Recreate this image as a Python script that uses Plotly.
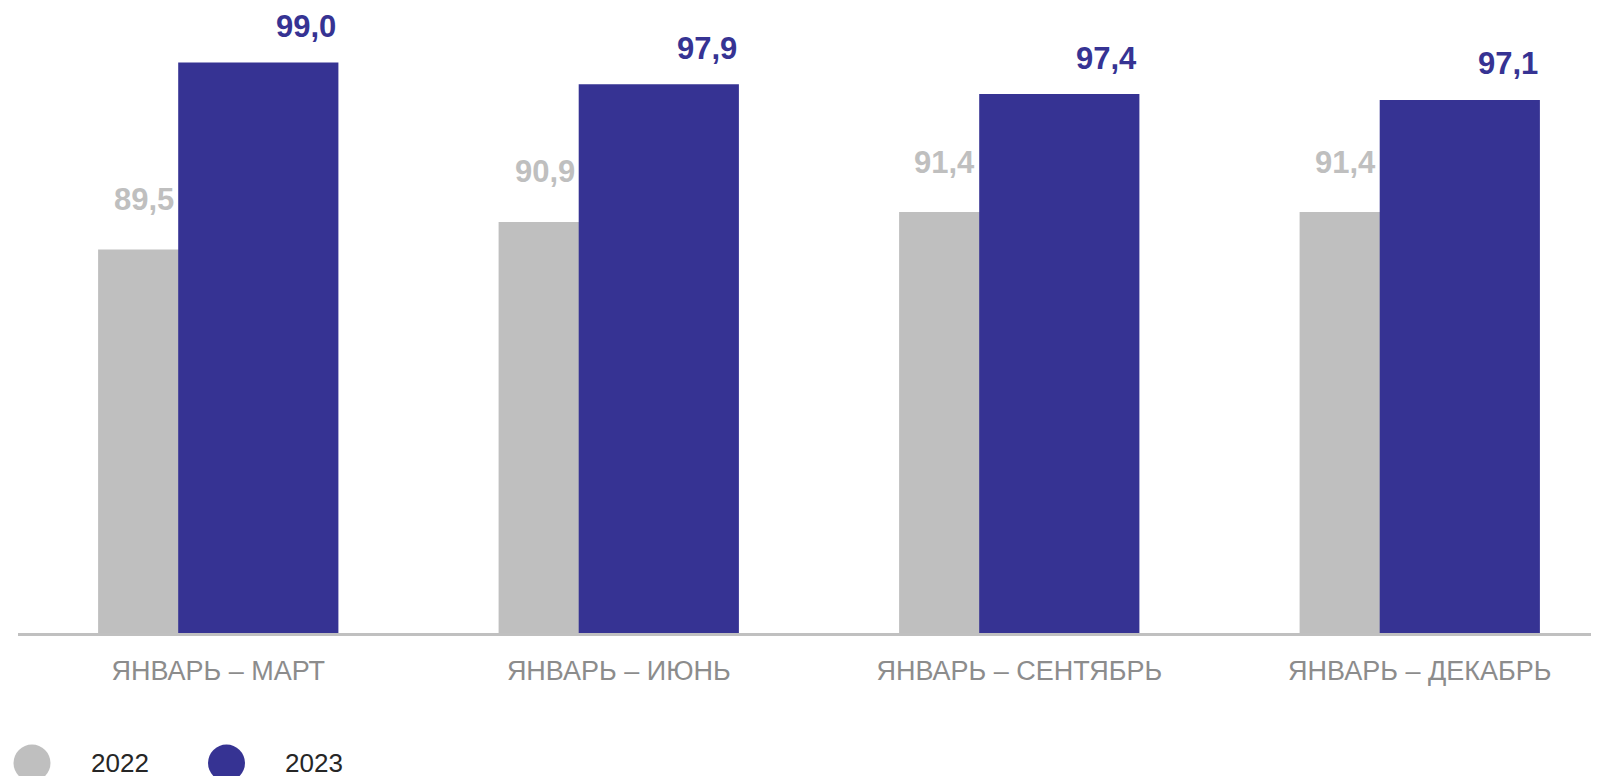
import plotly.graph_objects as go

categories = ["ЯНВАРЬ – МАРТ", "ЯНВАРЬ – ИЮНЬ", "ЯНВАРЬ – СЕНТЯБРЬ", "ЯНВАРЬ – ДЕКАБРЬ"]
values_2022 = [89.5, 90.9, 91.4, 91.4]
values_2023 = [99.0, 97.9, 97.4, 97.1]
series_names = ["2022", "2023"]
label_2022 = ["89,5", "90,9", "91,4", "91,4"]
label_2023 = ["99,0", "97,9", "97,4", "97,1"]

GRAY = "#bfbfbf"
BLUE = "#363393"
FONT = "Arial, Liberation Sans, sans-serif"

PAGE_OFF = 8  # default body margin of the page
W, H = 1599 - PAGE_OFF, 776 - PAGE_OFF
ML, MR, MT, MB = 18 - PAGE_OFF, 0, 0, 143
plot_w = W - ML - MR
plot_h = H - MT - MB
cat_px = 400.5
px_per_unit = 19.67
BAR_W = 0.4
OFF_22 = -0.3
OFF_23 = -0.1

fig = go.Figure()
fig.add_trace(go.Bar(x=categories, y=values_2022, name=series_names[0],
                     marker=dict(color=GRAY, line=dict(width=0)),
                     width=BAR_W, offset=OFF_22, hoverinfo="skip"))
fig.add_trace(go.Bar(x=categories, y=values_2023, name=series_names[1],
                     marker=dict(color=BLUE, line=dict(width=0)),
                     width=BAR_W, offset=OFF_23, hoverinfo="skip"))

annotations = []
for i, (v, t) in enumerate(zip(values_2022, label_2022)):
    annotations.append(dict(x=i + OFF_22 + BAR_W / 2, y=v, xref="x", yref="y", text=t,
                            showarrow=False, xanchor="right", yanchor="middle",
                            xshift=-2, yshift=50,
                            font=dict(family=FONT, size=31, color=GRAY, weight="bold")))
for i, (v, t) in enumerate(zip(values_2023, label_2023)):
    annotations.append(dict(x=i + OFF_23 + BAR_W, y=v, xref="x", yref="y", text=t,
                            showarrow=False, xanchor="right", yanchor="middle",
                            yshift=36,
                            font=dict(family=FONT, size=31, color=BLUE, weight="bold")))

# legend drawn manually (large circles), positions given in page pixels
def px_to_paper_x(px):
    return (px - PAGE_OFF - ML) / plot_w

def py_to_paper_y(py):
    return (H - MB - (py - PAGE_OFF)) / plot_h

shapes = []
leg_items = [(series_names[0], GRAY, 32, 89), (series_names[1], BLUE, 226.5, 283)]
for name, col, cx, tx in leg_items:
    shapes.append(dict(type="circle", xref="paper", yref="paper",
                       xsizemode="pixel", ysizemode="pixel",
                       xanchor=px_to_paper_x(cx), yanchor=py_to_paper_y(763),
                       x0=-18.5, x1=18.5, y0=-18.5, y1=18.5,
                       fillcolor=col, line=dict(width=0)))
    annotations.append(dict(x=px_to_paper_x(tx), y=py_to_paper_y(763), xref="paper", yref="paper",
                            text=name, showarrow=False, xanchor="left", yanchor="middle",
                            font=dict(family=FONT, size=26, color="#262626")))

fig.update_layout(
    width=W, height=H,
    margin=dict(l=ML, r=MR, t=MT, b=MB, pad=0),
    barmode="overlay",
    plot_bgcolor="white", paper_bgcolor="white",
    showlegend=False,
    annotations=annotations,
    shapes=shapes,
    xaxis=dict(range=[-0.5, -0.5 + plot_w / cat_px], showline=True, linecolor="#c0c0c0",
               linewidth=2.5, showgrid=False, zeroline=False, ticks="",
               tickfont=dict(family=FONT, size=27, color="#8c8c8c"),
               ticklabelstandoff=12),
    yaxis=dict(range=[70, 70 + plot_h / px_per_unit], visible=False, showgrid=False,
               zeroline=False),
)

fig.write_html("out.html")
